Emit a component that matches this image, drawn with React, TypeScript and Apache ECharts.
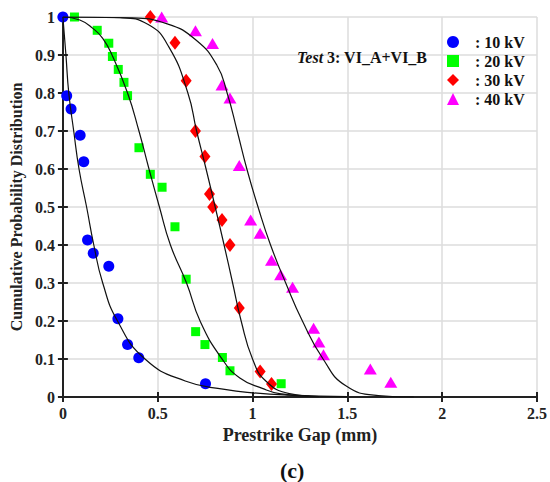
import React, { useEffect, useRef } from 'react';
import * as echarts from 'echarts';

const FONT = '"Liberation Serif", "Times New Roman", serif';

// Measured points (Prestrike gap in mm, cumulative probability)
const kv10X = [0, 0.02, 0.043, 0.091, 0.11, 0.13, 0.16, 0.242, 0.29, 0.341, 0.4, 0.752];
const kv10Y = [1, 0.793, 0.758, 0.689, 0.619, 0.413, 0.378, 0.344, 0.206, 0.138, 0.103, 0.035];

const kv20X = [0.061, 0.181, 0.242, 0.261, 0.292, 0.322, 0.341, 0.401, 0.461, 0.523, 0.591, 0.65, 0.7, 0.749, 0.841, 0.881, 1.151];
const kv20Y = [1, 0.965, 0.931, 0.896, 0.862, 0.828, 0.793, 0.656, 0.586, 0.552, 0.448, 0.31, 0.172, 0.138, 0.104, 0.069, 0.035];

const kv30X = [0.461, 0.591, 0.65, 0.699, 0.749, 0.773, 0.79, 0.839, 0.881, 0.93, 1.04, 1.1];
const kv30Y = [1, 0.932, 0.832, 0.7, 0.633, 0.534, 0.5, 0.466, 0.4, 0.234, 0.067, 0.034];

const kv40X = [0.521, 0.699, 0.789, 0.839, 0.881, 0.93, 0.99, 1.04, 1.1, 1.148, 1.211, 1.322, 1.35, 1.374, 1.621, 1.729];
const kv40Y = [1, 0.964, 0.93, 0.821, 0.787, 0.609, 0.466, 0.431, 0.36, 0.322, 0.289, 0.181, 0.145, 0.111, 0.074, 0.039];

// Fitted curves
const fit10X = [0, 0.016, 0.031, 0.057, 0.085, 0.125, 0.163, 0.21, 0.288, 0.433, 0.645, 0.853, 1.0, 1.2, 1.5];
const fit10Y = [1, 0.9, 0.8, 0.7, 0.6, 0.5, 0.4, 0.3, 0.2, 0.1, 0.042, 0.02, 0.011, 0.005, 0.001];

const fit20X = [0, 0.089, 0.158, 0.21, 0.259, 0.341, 0.401, 0.454, 0.509, 0.567, 0.652, 0.725, 0.838, 0.933, 1.055, 1.142, 1.3];
const fit20Y = [1, 0.992, 0.97, 0.944, 0.9, 0.8, 0.7, 0.6, 0.5, 0.4, 0.3, 0.198, 0.101, 0.05, 0.022, 0.009, 0.002];

const fit30X = [0, 0.3, 0.45, 0.56, 0.659, 0.705, 0.755, 0.803, 0.85, 0.895, 0.94, 1.0, 1.07, 1.194, 1.35];
const fit30Y = [1, 0.998, 0.98, 0.92, 0.8, 0.7, 0.6, 0.5, 0.4, 0.3, 0.2, 0.1, 0.042, 0.009, 0.001];

const fit40X = [0, 0.35, 0.55, 0.7, 0.812, 0.866, 0.919, 0.97, 1.029, 1.095, 1.175, 1.263, 1.372, 1.49, 1.663, 1.85];
const fit40Y = [1, 0.998, 0.982, 0.94, 0.873, 0.8, 0.7, 0.6, 0.5, 0.4, 0.3, 0.2, 0.1, 0.03, 0.004, 0];

const seriesNames = ['10 kV', '20 kV', '30 kV', '40 kV'];
const seriesColors = ['#0000ff', '#00ff00', '#ff0000', '#ff00ff'];
const seriesSymbols = ['circle', 'rect', 'diamond', 'triangle'];
const seriesSymbolSizes: (number | number[])[] = [11, 9, [11, 14], [13, 11]];

const xMin = 0;
const xMax = 2.5;
const xStep = 0.5;
const yMin = 0;
const yMax = 1;
const yStep = 0.1;

const zip = (xs: number[], ys: number[]) => xs.map((x, i) => [x, ys[i]]);

export default function App() {
  const ref = useRef<HTMLDivElement>(null);

  useEffect(() => {
    const chart = echarts.init(ref.current!, null, { renderer: 'svg' });
    const pts = [zip(kv10X, kv10Y), zip(kv20X, kv20Y), zip(kv30X, kv30Y), zip(kv40X, kv40Y)];
    const fits = [zip(fit10X, fit10Y), zip(fit20X, fit20Y), zip(fit30X, fit30Y), zip(fit40X, fit40Y)];

    const axisLine = { show: true, lineStyle: { color: '#222', width: 2 } };
    const axisTick = { show: true, inside: true, length: 5, lineStyle: { color: '#222', width: 2 } };
    const label = { color: '#222', fontFamily: FONT, fontWeight: 'bold', fontSize: 16 };

    const option: any = {
      animation: false,
      backgroundColor: '#fff',
      title: [
        {
          text: '{i|Test}{b| 3: VI_A+VI_B}',
          left: 297,
          top: 49,
          padding: 0,
          textStyle: {
            rich: {
              i: { fontFamily: FONT, fontStyle: 'italic', fontWeight: 'bold', fontSize: 16, color: '#111' },
              b: { fontFamily: FONT, fontWeight: 'bold', fontSize: 16, color: '#111' },
            },
          },
        },
        {
          text: '(c)',
          left: 280,
          top: 460,
          padding: 0,
          textStyle: { fontFamily: FONT, fontWeight: 'bold', fontSize: 22, color: '#111', lineHeight: 21 },
        },
      ],
      legend: {
        orient: 'vertical',
        left: 442,
        top: 29,
        padding: 5,
        itemWidth: 12,
        itemHeight: 12,
        itemGap: 3,
        data: seriesNames.map((n, i) => ({ name: n, icon: seriesSymbols[i] })),
        formatter: (n: string) => ': ' + n,
        textStyle: { ...label, color: '#111', lineHeight: 16, padding: [0, 0, 0, 11] },
      },
      grid: { left: 61, right: 9, top: 17, bottom: 85, containLabel: false },
      xAxis: [
        {
          type: 'value',
          min: xMin,
          max: xMax,
          interval: xStep,
          position: 'bottom',
          axisLine,
          axisTick,
          axisLabel: { ...label, margin: 8 },
          splitLine: { show: true, lineStyle: { color: '#dcdcdc', width: 1.5 } },
          name: 'Prestrike Gap (mm)',
          nameLocation: 'middle',
          nameGap: 28,
          nameTextStyle: { ...label, fontSize: 18 },
        },
        {
          type: 'value',
          min: xMin,
          max: xMax,
          interval: xStep,
          position: 'top',
          axisLine,
          axisTick,
          axisLabel: { show: false },
          splitLine: { show: false },
        },
      ],
      yAxis: [
        {
          type: 'value',
          min: yMin,
          max: yMax,
          interval: yStep,
          position: 'left',
          axisLine,
          axisTick,
          axisLabel: { ...label, margin: 8 },
          splitLine: { show: true, lineStyle: { color: '#dcdcdc', width: 1.5 } },
          name: 'Cumulative Probability Distribution',
          nameLocation: 'middle',
          nameGap: 35,
          nameTextStyle: { ...label, fontSize: 16 },
        },
        {
          type: 'value',
          min: yMin,
          max: yMax,
          interval: yStep,
          position: 'right',
          axisLine,
          axisTick,
          axisLabel: { show: false },
          splitLine: { show: false },
        },
      ],
      series: [
        ...seriesNames.map((n, i) => ({
          name: n,
          type: 'scatter',
          data: pts[i],
          symbol: seriesSymbols[i],
          symbolSize: seriesSymbolSizes[i],
          itemStyle: { color: seriesColors[i], opacity: 1 },
          z: 2,
        })),
        ...fits.map((d, i) => ({
          name: 'fit ' + seriesNames[i],
          type: 'line',
          data: d,
          smooth: 0.5,
          showSymbol: false,
          symbol: 'none',
          lineStyle: { color: '#111', width: 1.2 },
          silent: true,
          z: 3,
        })),
      ],
    };
    chart.setOption(option);
    return () => chart.dispose();
  }, []);

  return (
    <div
      ref={ref}
      style={{ position: 'absolute', left: 0, top: 0, width: 550, height: 482, background: '#fff' }}
    />
  );
}
